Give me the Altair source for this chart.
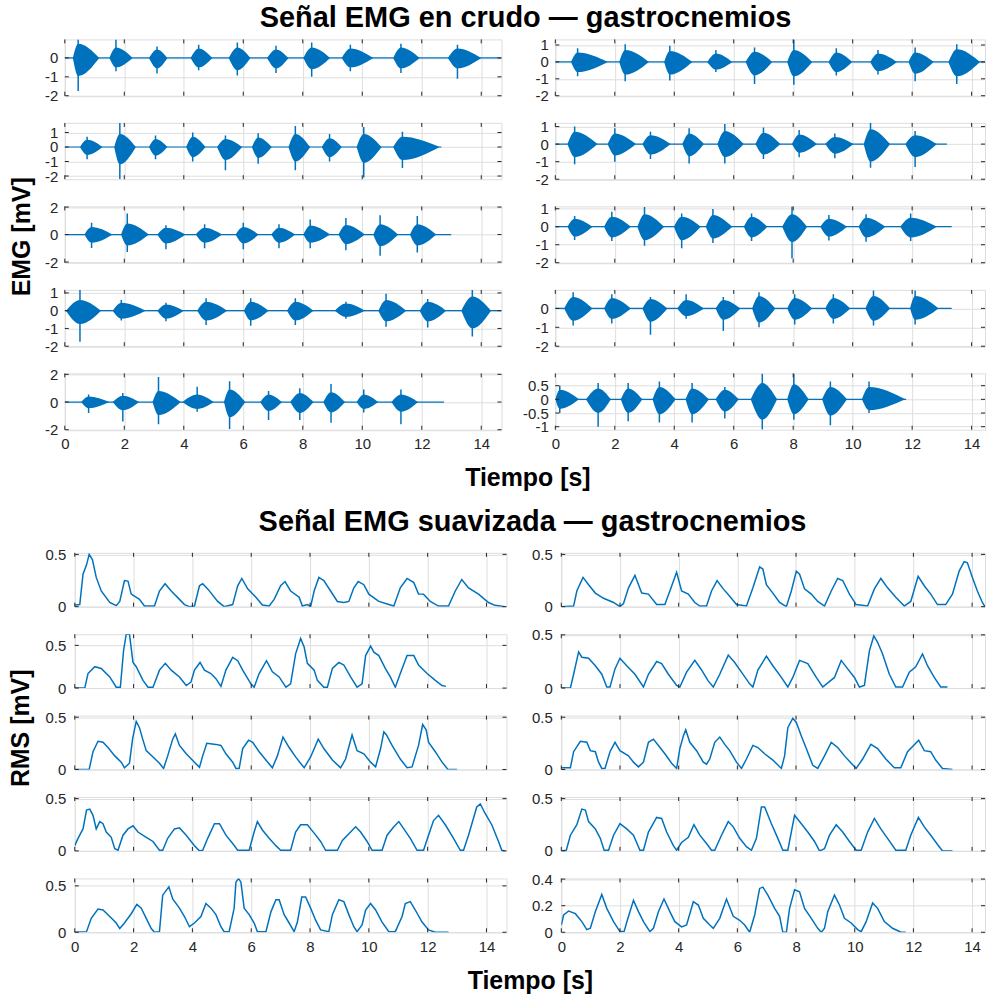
import altair as alt
import pandas as pd

FUENTE = "Liberation Sans"
AZUL = "#0072BD"
TEXTO = "#262626"
REJILLA = "#dedede"

marcas_tiempo = [0, 2, 4, 6, 8, 10, 12, 14]

titulo_crudo = "Señal EMG en crudo — gastrocnemios"
titulo_suave = "Señal EMG suavizada — gastrocnemios"
etiqueta_x = "Tiempo [s]"
etiqueta_crudo = "EMG [mV]"
etiqueta_suave = "RMS [mV]"

# ---------- señal en crudo: ráfagas (inicio, pico, fin, sup, inf, máx, mín) ----------
crudo_i1 = [(0.27, 0.45, 1.16, 0.75, -0.95, 0.98, -1.75), (1.50, 1.72, 2.28, 0.55, -0.50, 0.98, -0.70),
            (2.83, 3.10, 3.45, 0.45, -0.55, 0.60, -0.82), (4.23, 4.50, 4.96, 0.50, -0.50, 0.70, -0.65),
            (5.51, 5.80, 6.24, 0.55, -0.65, 0.82, -0.93), (6.80, 7.10, 7.52, 0.45, -0.55, 0.65, -0.80),
            (8.02, 8.30, 8.92, 0.55, -0.60, 0.82, -1.00), (9.31, 9.60, 10.37, 0.50, -0.50, 0.70, -0.70),
            (11.04, 11.30, 11.93, 0.55, -0.55, 0.75, -0.80), (12.88, 13.20, 14.00, 0.50, -0.55, 0.70, -1.10)]
crudo_i2 = [(0.51, 0.75, 1.27, 0.50, -0.55, 0.70, -0.85), (1.66, 1.85, 2.39, 0.90, -1.20, 1.66, -2.20),
            (2.83, 3.05, 3.45, 0.55, -0.60, 0.80, -0.85), (4.08, 4.30, 4.73, 0.70, -0.70, 1.00, -1.00),
            (5.12, 5.40, 5.96, 0.55, -0.90, 0.80, -1.60), (6.29, 6.50, 6.96, 0.65, -0.75, 0.95, -1.15),
            (7.52, 7.75, 8.25, 0.90, -1.00, 1.45, -1.60), (8.64, 8.90, 9.31, 0.60, -0.70, 0.90, -1.00),
            (9.81, 10.05, 10.65, 0.90, -1.10, 1.37, -2.10), (11.04, 11.35, 12.60, 0.70, -0.90, 1.05, -1.45)]
crudo_i3 = [(0.66, 0.90, 1.61, 0.55, -0.60, 0.85, -0.97), (1.89, 2.10, 2.83, 0.80, -0.80, 1.53, -1.27),
            (3.11, 3.40, 4.06, 0.50, -0.65, 0.68, -1.07), (4.40, 4.70, 5.29, 0.50, -0.60, 0.75, -1.00),
            (5.74, 6.00, 6.52, 0.55, -0.65, 0.85, -1.07), (6.94, 7.20, 7.75, 0.50, -0.60, 0.75, -1.00),
            (8.02, 8.25, 8.92, 0.65, -0.60, 1.10, -1.00), (9.20, 9.45, 10.09, 0.70, -0.70, 1.20, -1.14),
            (10.37, 10.60, 11.21, 0.75, -0.85, 1.40, -1.55), (11.60, 11.85, 12.49, 0.75, -0.80, 1.35, -1.31)]
crudo_i4 = [(0.04, 0.51, 1.22, 0.60, -0.75, 1.17, -1.75), (1.61, 1.90, 2.72, 0.45, -0.45, 0.60, -0.55),
            (3.11, 3.40, 4.00, 0.35, -0.45, 0.45, -0.60), (4.45, 4.75, 5.46, 0.50, -0.55, 0.70, -0.80),
            (6.02, 6.25, 6.85, 0.50, -0.55, 0.70, -0.85), (7.47, 7.75, 8.36, 0.50, -0.55, 0.70, -0.80),
            (9.08, 9.45, 10.09, 0.40, -0.35, 0.50, -0.45), (10.54, 10.80, 11.48, 0.60, -0.60, 0.95, -0.90),
            (11.93, 12.20, 12.82, 0.50, -0.60, 0.65, -0.95), (13.33, 13.70, 14.33, 0.80, -1.00, 1.17, -1.45)]
crudo_i5 = [(0.55, 0.80, 1.50, 0.40, -0.45, 0.55, -0.80), (1.61, 1.95, 2.50, 0.45, -0.60, 0.65, -1.40),
            (2.95, 3.15, 3.90, 0.80, -0.95, 1.80, -1.60), (3.95, 4.45, 5.01, 0.55, -0.50, 1.10, -0.70),
            (5.35, 5.54, 6.07, 0.90, -1.10, 1.50, -1.95), (6.57, 6.85, 7.30, 0.55, -0.65, 0.80, -1.30),
            (7.58, 7.90, 8.36, 0.65, -0.80, 1.00, -1.30), (8.69, 8.95, 9.42, 0.70, -0.75, 1.30, -1.50),
            (9.81, 10.05, 10.54, 0.55, -0.50, 0.90, -0.75), (10.98, 11.30, 11.88, 0.55, -0.70, 0.90, -1.60)]
crudo_d1 = [(0.53, 0.75, 1.76, 0.55, -0.60, 0.80, -0.85), (2.15, 2.35, 3.15, 0.70, -0.75, 1.05, -1.15),
            (3.66, 3.85, 4.61, 0.65, -0.75, 0.95, -1.10), (5.11, 5.40, 5.95, 0.50, -0.45, 0.70, -0.60),
            (6.40, 6.70, 7.29, 0.60, -0.80, 0.85, -1.30), (7.80, 8.02, 8.64, 0.70, -0.85, 1.33, -1.35),
            (9.19, 9.45, 9.98, 0.55, -0.60, 0.80, -0.80), (10.59, 10.85, 11.49, 0.50, -0.55, 0.70, -0.75),
            (11.88, 12.10, 12.72, 0.55, -0.70, 0.85, -1.15), (13.22, 13.50, 14.28, 0.75, -0.85, 1.05, -1.30)]
crudo_d2 = [(0.41, 0.65, 1.42, 0.70, -0.75, 1.00, -1.15), (1.76, 2.00, 2.71, 0.60, -0.65, 0.90, -1.00),
            (2.93, 3.20, 3.88, 0.50, -0.60, 0.70, -0.85), (4.27, 4.50, 5.00, 0.60, -0.70, 0.90, -1.10),
            (5.45, 5.70, 6.34, 0.75, -0.75, 1.15, -1.10), (6.73, 7.00, 7.57, 0.65, -0.60, 0.95, -0.85),
            (7.96, 8.20, 8.80, 0.55, -0.50, 0.80, -0.75), (9.08, 9.40, 10.03, 0.40, -0.55, 0.60, -0.80),
            (10.37, 10.60, 11.26, 0.85, -1.00, 1.21, -1.35), (11.77, 12.10, 12.83, 0.50, -0.75, 0.75, -1.30)]
crudo_d3 = [(0.41, 0.65, 1.25, 0.45, -0.55, 0.59, -0.74), (1.64, 1.90, 2.54, 0.55, -0.60, 0.83, -0.80),
            (2.76, 3.00, 3.66, 0.70, -0.75, 1.10, -1.06), (3.99, 4.25, 4.89, 0.55, -0.75, 0.74, -1.20),
            (5.06, 5.30, 5.95, 0.65, -0.65, 0.98, -0.90), (6.34, 6.60, 7.13, 0.55, -0.60, 0.74, -0.80),
            (7.63, 7.96, 8.47, 0.70, -0.85, 1.13, -1.76), (8.91, 9.20, 9.81, 0.45, -0.55, 0.65, -0.76),
            (10.20, 10.45, 11.10, 0.50, -0.60, 0.70, -0.83), (11.60, 11.95, 12.83, 0.50, -0.60, 0.74, -0.80)]
crudo_d4 = [(0.30, 0.60, 1.25, 0.60, -0.65, 0.85, -0.90), (1.64, 1.90, 2.54, 0.55, -0.55, 0.75, -0.80),
            (2.93, 3.20, 3.77, 0.50, -0.70, 0.60, -1.40), (4.10, 4.40, 5.00, 0.45, -0.40, 0.75, -0.55),
            (5.39, 5.65, 6.23, 0.45, -0.60, 0.60, -1.20), (6.62, 6.85, 7.40, 0.65, -0.75, 0.85, -1.00),
            (7.80, 8.05, 8.64, 0.55, -0.60, 0.75, -0.85), (9.08, 9.35, 9.92, 0.55, -0.55, 0.75, -0.80),
            (10.43, 10.70, 11.26, 0.65, -0.65, 0.95, -0.90), (11.93, 12.10, 12.89, 0.65, -0.60, 0.95, -0.85)]
crudo_d5 = [(0.00, 0.15, 0.80, 0.35, -0.35, 0.50, -0.50), (1.03, 1.44, 1.87, 0.40, -0.50, 0.60, -1.00),
            (2.20, 2.45, 2.93, 0.40, -0.50, 0.60, -0.80), (3.27, 3.50, 4.05, 0.45, -0.55, 0.65, -0.85),
            (4.38, 4.60, 5.17, 0.40, -0.55, 0.60, -0.85), (5.39, 5.70, 6.17, 0.35, -0.45, 0.45, -0.70),
            (6.57, 6.96, 7.46, 0.60, -0.75, 0.95, -1.10), (7.80, 8.02, 8.52, 0.55, -0.55, 0.95, -0.75),
            (8.97, 9.25, 9.81, 0.45, -0.60, 0.65, -0.95), (10.31, 10.55, 11.77, 0.45, -0.40, 0.65, -0.50)]

crudo_fin_i = [14.68, 12.66, 12.99, 14.68, 12.75]
crudo_fin_d = [14.45, 13.17, 13.33, 13.33, 11.80]
crudo_lim_i = [(-2.0, 0.98), (-2.22, 1.66), (-2.05, 2.05), (-2.0, 1.17), (-2.0, 2.07)]
crudo_lim_d = [(-2.0, 1.33), (-2.0, 1.21), (-2.0, 1.13), (-2.0, 0.98), (-1.11, 0.95)]
crudo_yt_i = [[-2, -1, 0], [-2, -1, 0, 1], [-2, 0, 2], [-2, -1, 0, 1], [-2, 0, 2]]
crudo_yt_d = [[-2, -1, 0, 1], [-2, -1, 0, 1], [-2, -1, 0, 1], [-2, -1, 0], [-1, -0.5, 0, 0.5]]

# ---------- señal suavizada (RMS): (tiempo, valor) ----------
rms_i1 = [(0, 0.016), (0.17, 0.02), (0.28, 0.31), (0.40, 0.40), (0.49, 0.50), (0.60, 0.45), (0.73, 0.28),
          (0.90, 0.15), (1.19, 0.04), (1.41, 0.01), (1.53, 0.05), (1.69, 0.25), (1.81, 0.245), (1.92, 0.12),
          (2.20, 0.07), (2.37, 0.006), (2.71, 0.006), (2.88, 0.15), (3.07, 0.22), (3.28, 0.15), (3.56, 0.07),
          (3.73, 0.02), (3.90, 0.0), (4.07, 0.006), (4.24, 0.20), (4.35, 0.22), (4.52, 0.17), (4.86, 0.05),
          (5.08, 0.0), (5.37, 0.02), (5.54, 0.20), (5.68, 0.27), (5.88, 0.17), (6.16, 0.09), (6.38, 0.016),
          (6.61, 0.006), (6.78, 0.07), (7.00, 0.20), (7.15, 0.24), (7.34, 0.15), (7.63, 0.09), (7.74, 0.006),
          (7.91, 0.02), (8.02, 0.0), (8.14, 0.15), (8.30, 0.28), (8.47, 0.25), (8.70, 0.15), (8.93, 0.05),
          (9.15, 0.04), (9.32, 0.05), (9.49, 0.18), (9.64, 0.24), (9.83, 0.21), (10.00, 0.12), (10.34, 0.05),
          (10.68, 0.02), (10.85, 0.006), (11.07, 0.18), (11.30, 0.27), (11.53, 0.23), (11.69, 0.12),
          (11.86, 0.12), (12.09, 0.05), (12.37, 0.006), (12.71, 0.006), (12.94, 0.15), (13.16, 0.26),
          (13.39, 0.18), (13.73, 0.12), (14.07, 0.04), (14.29, 0.013), (14.63, 0.0)]
rms_i2 = [(0, 0.0), (0.34, 0.0), (0.45, 0.17), (0.68, 0.25), (0.90, 0.23), (1.19, 0.13), (1.41, 0.01),
          (1.55, 0.01), (1.66, 0.44), (1.75, 0.63), (1.86, 0.63), (1.98, 0.30), (2.09, 0.25), (2.32, 0.09),
          (2.49, 0.01), (2.66, 0.01), (2.88, 0.21), (3.08, 0.29), (3.28, 0.21), (3.56, 0.13), (3.79, 0.03),
          (3.95, 0.07), (4.07, 0.21), (4.26, 0.30), (4.41, 0.21), (4.63, 0.17), (4.80, 0.11), (4.97, 0.02),
          (5.14, 0.21), (5.37, 0.36), (5.54, 0.32), (5.71, 0.21), (5.99, 0.05), (6.10, 0.01), (6.27, 0.17),
          (6.52, 0.32), (6.72, 0.19), (6.95, 0.13), (7.18, 0.01), (7.34, 0.05), (7.51, 0.40), (7.68, 0.58),
          (7.80, 0.48), (7.91, 0.29), (8.14, 0.21), (8.25, 0.09), (8.47, 0.01), (8.59, 0.01), (8.76, 0.23),
          (8.98, 0.30), (9.15, 0.27), (9.38, 0.13), (9.60, 0.01), (9.77, 0.05), (9.89, 0.38), (10.06, 0.49),
          (10.17, 0.42), (10.34, 0.38), (10.56, 0.23), (10.73, 0.13), (10.90, 0.01), (11.07, 0.17),
          (11.30, 0.38), (11.53, 0.38), (11.69, 0.27), (11.98, 0.17), (12.26, 0.09), (12.49, 0.03),
          (12.62, 0.02)]
rms_i3 = [(0, 0.0), (0.49, 0.0), (0.62, 0.17), (0.79, 0.27), (0.96, 0.26), (1.13, 0.21), (1.36, 0.13),
          (1.58, 0.07), (1.69, 0.016), (1.86, 0.06), (1.97, 0.30), (2.09, 0.46), (2.20, 0.40), (2.30, 0.30),
          (2.43, 0.18), (2.66, 0.12), (2.88, 0.06), (3.02, 0.01), (3.16, 0.13), (3.33, 0.29), (3.42, 0.34),
          (3.56, 0.23), (3.79, 0.15), (4.07, 0.07), (4.24, 0.02), (4.35, 0.13), (4.49, 0.25), (4.80, 0.24),
          (4.97, 0.23), (5.14, 0.15), (5.37, 0.07), (5.48, 0.01), (5.59, 0.01), (5.71, 0.20), (5.91, 0.28),
          (6.05, 0.26), (6.27, 0.17), (6.50, 0.09), (6.72, 0.016), (6.89, 0.13), (7.08, 0.31), (7.29, 0.21),
          (7.51, 0.12), (7.80, 0.016), (8.02, 0.12), (8.28, 0.29), (8.47, 0.20), (8.76, 0.09), (9.04, 0.016),
          (9.21, 0.10), (9.43, 0.33), (9.60, 0.18), (9.83, 0.15), (10.06, 0.07), (10.23, 0.025), (10.40, 0.20),
          (10.51, 0.36), (10.60, 0.33), (10.79, 0.23), (11.07, 0.10), (11.30, 0.016), (11.47, 0.025),
          (11.69, 0.23), (11.83, 0.43), (11.95, 0.38), (12.03, 0.26), (12.26, 0.17), (12.49, 0.07),
          (12.69, 0.0), (13.0, 0.0)]
rms_i4 = [(0, 0.05), (0.11, 0.12), (0.28, 0.21), (0.40, 0.39), (0.51, 0.40), (0.62, 0.34), (0.73, 0.21),
          (0.85, 0.28), (0.96, 0.26), (1.07, 0.18), (1.24, 0.13), (1.36, 0.02), (1.47, 0.006), (1.64, 0.15),
          (1.81, 0.21), (1.98, 0.24), (2.15, 0.18), (2.43, 0.13), (2.66, 0.09), (2.88, 0.006), (2.99, 0.006),
          (3.16, 0.12), (3.39, 0.21), (3.56, 0.22), (3.79, 0.15), (4.07, 0.05), (4.24, 0.0), (4.35, 0.006),
          (4.52, 0.12), (4.75, 0.26), (4.92, 0.26), (5.14, 0.15), (5.37, 0.07), (5.54, 0.006), (5.93, 0.006),
          (6.10, 0.18), (6.21, 0.28), (6.38, 0.20), (6.61, 0.12), (6.84, 0.05), (7.00, 0.006), (7.34, 0.006),
          (7.51, 0.18), (7.68, 0.25), (7.91, 0.25), (8.14, 0.17), (8.36, 0.09), (8.53, 0.006), (8.93, 0.006),
          (9.10, 0.10), (9.38, 0.18), (9.55, 0.23), (9.72, 0.18), (9.94, 0.09), (10.11, 0.006), (10.45, 0.006),
          (10.62, 0.15), (10.85, 0.23), (11.02, 0.28), (11.19, 0.21), (11.41, 0.12), (11.64, 0.006),
          (11.86, 0.006), (12.03, 0.15), (12.20, 0.29), (12.37, 0.34), (12.60, 0.25), (12.88, 0.12),
          (13.11, 0.006), (13.22, 0.006), (13.39, 0.15), (13.67, 0.42), (13.79, 0.45), (13.95, 0.36),
          (14.18, 0.25), (14.41, 0.09), (14.52, 0.006), (14.63, 0.0)]
rms_i5 = [(0, 0.0), (0.40, 0.007), (0.56, 0.15), (0.79, 0.25), (0.96, 0.24), (1.19, 0.17), (1.41, 0.10),
          (1.53, 0.04), (1.69, 0.10), (1.92, 0.20), (2.11, 0.30), (2.26, 0.26), (2.43, 0.15), (2.60, 0.04),
          (2.71, 0.0), (2.88, 0.007), (2.99, 0.40), (3.20, 0.49), (3.33, 0.36), (3.56, 0.26), (3.73, 0.17),
          (3.90, 0.06), (4.07, 0.10), (4.29, 0.17), (4.46, 0.31), (4.63, 0.26), (4.80, 0.19), (4.97, 0.06),
          (5.08, 0.007), (5.25, 0.007), (5.42, 0.26), (5.48, 0.54), (5.57, 0.58), (5.65, 0.54), (5.76, 0.26),
          (5.93, 0.19), (6.10, 0.10), (6.21, 0.007), (6.50, 0.007), (6.67, 0.22), (6.84, 0.35), (6.95, 0.35),
          (7.12, 0.19), (7.29, 0.10), (7.46, 0.007), (7.57, 0.11), (7.72, 0.38), (7.85, 0.38), (8.02, 0.26),
          (8.19, 0.13), (8.36, 0.025), (8.64, 0.007), (8.76, 0.19), (8.98, 0.35), (9.15, 0.33), (9.32, 0.19),
          (9.49, 0.06), (9.60, 0.007), (9.77, 0.08), (9.89, 0.24), (10.06, 0.31), (10.23, 0.24), (10.45, 0.11),
          (10.68, 0.007), (10.90, 0.007), (11.13, 0.17), (11.24, 0.31), (11.41, 0.33), (11.58, 0.24),
          (11.81, 0.11), (12.03, 0.025), (12.26, 0.0), (12.71, 0.0)]
rms_d1 = [(0, 0.0), (0.42, 0.006), (0.53, 0.15), (0.74, 0.28), (0.93, 0.21), (1.16, 0.13), (1.44, 0.08),
          (1.78, 0.04), (2.00, 0.0), (2.12, 0.03), (2.29, 0.18), (2.51, 0.30), (2.74, 0.13), (2.97, 0.12),
          (3.25, 0.02), (3.53, 0.02), (3.70, 0.15), (3.93, 0.33), (4.10, 0.15), (4.33, 0.12), (4.55, 0.04),
          (4.72, 0.006), (4.95, 0.006), (5.12, 0.15), (5.31, 0.25), (5.52, 0.17), (5.74, 0.10), (5.97, 0.02),
          (6.31, 0.006), (6.53, 0.18), (6.76, 0.38), (6.87, 0.36), (6.99, 0.21), (7.21, 0.13), (7.44, 0.04),
          (7.67, 0.0), (7.84, 0.15), (8.01, 0.34), (8.12, 0.31), (8.29, 0.17), (8.52, 0.12), (8.74, 0.05),
          (8.97, 0.006), (9.20, 0.15), (9.42, 0.27), (9.59, 0.25), (9.82, 0.12), (10.05, 0.02), (10.44, 0.006),
          (10.67, 0.17), (10.89, 0.27), (11.12, 0.18), (11.40, 0.09), (11.69, 0.006), (11.91, 0.05),
          (12.16, 0.29), (12.37, 0.20), (12.59, 0.12), (12.82, 0.02), (13.10, 0.02), (13.33, 0.12),
          (13.56, 0.34), (13.73, 0.43), (13.84, 0.42), (14.01, 0.28), (14.18, 0.15), (14.35, 0.04),
          (14.44, 0.0)]
rms_d2 = [(0, 0.0), (0.31, 0.0), (0.42, 0.13), (0.59, 0.34), (0.70, 0.29), (0.93, 0.28), (1.16, 0.21),
          (1.38, 0.13), (1.55, 0.01), (1.66, 0.01), (1.83, 0.18), (2.00, 0.28), (2.23, 0.21), (2.51, 0.13),
          (2.80, 0.01), (2.97, 0.13), (3.25, 0.25), (3.42, 0.23), (3.65, 0.13), (3.93, 0.025), (4.04, 0.01),
          (4.27, 0.15), (4.55, 0.26), (4.78, 0.17), (5.00, 0.07), (5.18, 0.01), (5.40, 0.13), (5.69, 0.31),
          (5.91, 0.24), (6.14, 0.15), (6.42, 0.04), (6.53, 0.01), (6.70, 0.17), (6.99, 0.30), (7.21, 0.21),
          (7.50, 0.10), (7.72, 0.01), (7.89, 0.10), (8.12, 0.26), (8.40, 0.23), (8.69, 0.10), (8.91, 0.01),
          (9.31, 0.10), (9.54, 0.26), (9.76, 0.18), (9.99, 0.10), (10.16, 0.01), (10.33, 0.025), (10.50, 0.35),
          (10.65, 0.49), (10.78, 0.43), (10.95, 0.32), (11.18, 0.13), (11.40, 0.01), (11.63, 0.01),
          (11.86, 0.15), (12.08, 0.20), (12.31, 0.32), (12.48, 0.21), (12.71, 0.10), (12.93, 0.01),
          (13.16, 0.01)]
rms_d3 = [(0, 0.016), (0.31, 0.016), (0.42, 0.17), (0.65, 0.27), (0.87, 0.26), (0.99, 0.18), (1.16, 0.17),
          (1.27, 0.07), (1.38, 0.01), (1.49, 0.01), (1.66, 0.17), (1.83, 0.26), (2.00, 0.18), (2.29, 0.13),
          (2.46, 0.07), (2.63, 0.025), (2.80, 0.07), (2.97, 0.26), (3.14, 0.29), (3.31, 0.23), (3.53, 0.15),
          (3.76, 0.06), (3.93, 0.01), (4.04, 0.20), (4.16, 0.32), (4.24, 0.38), (4.38, 0.26), (4.61, 0.18),
          (4.84, 0.07), (4.95, 0.05), (5.06, 0.10), (5.23, 0.26), (5.40, 0.31), (5.57, 0.24), (5.74, 0.18),
          (5.97, 0.07), (6.14, 0.01), (6.31, 0.10), (6.53, 0.23), (6.70, 0.21), (6.93, 0.15), (7.21, 0.09),
          (7.50, 0.01), (7.61, 0.13), (7.72, 0.40), (7.89, 0.49), (8.01, 0.45), (8.18, 0.32), (8.35, 0.20),
          (8.57, 0.04), (8.74, 0.01), (8.97, 0.13), (9.20, 0.26), (9.42, 0.21), (9.65, 0.13), (9.88, 0.06),
          (10.05, 0.01), (10.27, 0.10), (10.55, 0.24), (10.78, 0.20), (11.06, 0.10), (11.35, 0.016),
          (11.57, 0.016), (11.80, 0.17), (12.18, 0.28), (12.37, 0.18), (12.59, 0.17), (12.76, 0.09),
          (12.99, 0.01), (13.33, 0.0)]
rms_d4 = [(0, 0.0), (0.17, 0.006), (0.31, 0.15), (0.53, 0.25), (0.70, 0.40), (0.82, 0.39), (0.93, 0.28),
          (1.16, 0.21), (1.33, 0.12), (1.46, 0.006), (1.61, 0.006), (1.78, 0.15), (2.00, 0.26), (2.23, 0.21),
          (2.46, 0.15), (2.68, 0.006), (2.80, 0.006), (2.97, 0.18), (3.25, 0.32), (3.42, 0.31), (3.59, 0.18),
          (3.82, 0.05), (3.93, 0.006), (4.10, 0.08), (4.33, 0.13), (4.52, 0.25), (4.72, 0.15), (4.95, 0.07),
          (5.12, 0.006), (5.23, 0.006), (5.46, 0.15), (5.69, 0.28), (5.86, 0.23), (6.08, 0.12), (6.31, 0.04),
          (6.48, 0.006), (6.65, 0.12), (6.82, 0.42), (6.93, 0.42), (7.16, 0.26), (7.38, 0.12), (7.55, 0.006),
          (7.72, 0.006), (7.95, 0.34), (8.18, 0.26), (8.40, 0.18), (8.63, 0.09), (8.80, 0.0), (8.97, 0.02),
          (9.14, 0.15), (9.37, 0.25), (9.59, 0.18), (9.82, 0.09), (10.05, 0.006), (10.22, 0.006),
          (10.44, 0.18), (10.67, 0.31), (10.89, 0.21), (11.12, 0.12), (11.40, 0.006), (11.74, 0.006),
          (11.91, 0.15), (12.17, 0.32), (12.37, 0.23), (12.59, 0.15), (12.88, 0.04), (12.99, 0.0),
          (13.33, 0.0)]
rms_d5 = [(0, 0.055), (0.08, 0.13), (0.25, 0.16), (0.48, 0.14), (0.70, 0.08), (0.87, 0.02), (0.99, 0.03),
          (1.16, 0.155), (1.38, 0.285), (1.55, 0.18), (1.78, 0.08), (2.00, 0.005), (2.14, 0.005), (2.25, 0.09),
          (2.46, 0.24), (2.63, 0.155), (2.80, 0.08), (3.02, 0.005), (3.14, 0.03), (3.31, 0.155), (3.50, 0.25),
          (3.70, 0.155), (3.87, 0.08), (4.10, 0.04), (4.27, 0.055), (4.50, 0.23), (4.67, 0.205), (4.84, 0.105),
          (5.06, 0.055), (5.18, 0.03), (5.40, 0.105), (5.63, 0.25), (5.86, 0.12), (6.08, 0.09), (6.25, 0.055),
          (6.42, 0.0), (6.59, 0.13), (6.76, 0.33), (6.87, 0.34), (7.04, 0.28), (7.27, 0.18), (7.44, 0.12),
          (7.55, 0.0), (7.67, 0.0), (7.78, 0.18), (7.95, 0.32), (8.12, 0.305), (8.29, 0.18), (8.52, 0.105),
          (8.74, 0.03), (8.86, 0.0), (8.97, 0.03), (9.08, 0.155), (9.31, 0.28), (9.48, 0.205), (9.65, 0.105),
          (9.88, 0.07), (10.10, 0.02), (10.22, 0.005), (10.39, 0.08), (10.61, 0.22), (10.78, 0.18),
          (11.01, 0.08), (11.29, 0.03), (11.58, 0.0), (11.74, 0.0)]

rms_lim_i = [(0, 0.515), (0, 0.63), (0, 0.515), (0, 0.515), (0, 0.58)]
rms_lim_d = [(0, 0.515), (0, 0.506), (0, 0.515), (0, 0.515), (0, 0.405)]
rms_yt_i = [[0, 0.5]] * 5
rms_yt_d = [[0, 0.5], [0, 0.5], [0, 0.5], [0, 0.5], [0, 0.2, 0.4]]


def ejes(xmax, ylim, yticks, abajo, cfg, ytitulo, xtitulo):
    xa = dict(values=[v for v in marcas_tiempo if v <= xmax], grid=True, gridColor=REJILLA, gridWidth=1,
              ticks=False, domain=False, labels=abajo, labelFontSize=15, labelColor=TEXTO, labelFont=FUENTE,
              labelPadding=7, labelFlush=False, labelOverlap=False, title=None)
    if xtitulo:
        xa.update(title=xtitulo, titleFontSize=25, titleFontWeight="bold", titleColor="#000000",
                  titleFont=FUENTE, titleX=cfg["xtit_x"], titlePadding=cfg["xtit_pad"])
    ya = dict(values=yticks, grid=True, gridColor=REJILLA, gridWidth=1, ticks=False, domain=False,
              labelFontSize=15, labelColor=TEXTO, labelFont=FUENTE, labelPadding=cfg["ylab_pad"],
              labelFlush=False, labelOverlap=False, labelExpr="toString(datum.value)", title=None)
    if ytitulo:
        ya.update(title=ytitulo, titleFontSize=25, titleFontWeight="bold", titleColor="#000000",
                  titleFont=FUENTE, titleAngle=270, titleBaseline="middle", titleAlign="center",
                  titleX=cfg["ytit_x"], titleY=cfg["ytit_y"])
    xs = alt.Scale(domain=[0, xmax], nice=False, zero=False)
    ys = alt.Scale(domain=list(ylim), nice=False, zero=False)

    def X(campo):
        return alt.X(f"{campo}:Q", scale=xs, axis=alt.Axis(**xa))

    def Y(campo):
        return alt.Y(f"{campo}:Q", scale=ys, axis=alt.Axis(**ya))

    return X, Y


def marcas_ejes(X, Y, xmax, ylim, yticks, ancho, alto):
    dfx = pd.DataFrame({"t": [v for v in marcas_tiempo if v <= xmax]})
    dfy = pd.DataFrame({"v": [v for v in yticks if ylim[0] <= v <= ylim[1]]})
    return [
        alt.Chart(dfx).mark_rule(color=TEXTO, strokeWidth=1).encode(x=X("t"), y=alt.value(0), y2=alt.value(4)),
        alt.Chart(dfx).mark_rule(color=TEXTO, strokeWidth=1).encode(x=X("t"), y=alt.value(alto - 4), y2=alt.value(alto)),
        alt.Chart(dfy).mark_rule(color=TEXTO, strokeWidth=1).encode(y=Y("v"), x=alt.value(0), x2=alt.value(4)),
        alt.Chart(dfy).mark_rule(color=TEXTO, strokeWidth=1).encode(y=Y("v"), x=alt.value(ancho - 4), x2=alt.value(ancho)),
    ]


def panel_crudo(rafagas, fin, ylim, yticks, xmax, ancho, alto, abajo, cfg, ytitulo=None, xtitulo=None):
    X, Y = ejes(xmax, ylim, yticks, abajo, cfg, ytitulo, xtitulo)
    filas = []
    for i, (a, p, b, s, inf, mx, mn) in enumerate(rafagas):
        filas += [{"r": i, "t": a, "hi": 0.0, "lo": 0.0},
                  {"r": i, "t": p, "hi": s, "lo": inf},
                  {"r": i, "t": b, "hi": 0.0, "lo": 0.0}]
    area = pd.DataFrame(filas)
    picos = pd.DataFrame([{"t": p, "hi": mx, "lo": mn} for (a, p, b, s, inf, mx, mn) in rafagas])
    base = pd.DataFrame({"t": [0.0], "t1": [fin], "v": [0.0]})
    capas = [
        alt.Chart(base).mark_rule(color=AZUL, strokeWidth=1.2, clip=True).encode(x=X("t"), x2="t1", y=Y("v")),
        alt.Chart(area).mark_area(color=AZUL, opacity=1, clip=True, interpolate="monotone").encode(
            x=X("t"), y=Y("hi"), y2="lo", detail="r:N"),
        alt.Chart(picos).mark_rule(color=AZUL, strokeWidth=1.5, clip=True).encode(x=X("t"), y=Y("hi"), y2="lo"),
    ]
    capas += marcas_ejes(X, Y, xmax, ylim, yticks, ancho, alto)
    return alt.layer(*capas).properties(width=ancho, height=alto)


def panel_rms(puntos, ylim, yticks, xmax, ancho, alto, abajo, cfg, ytitulo=None, xtitulo=None):
    X, Y = ejes(xmax, ylim, yticks, abajo, cfg, ytitulo, xtitulo)
    df = pd.DataFrame(puntos, columns=["t", "v"])
    capas = [alt.Chart(df).mark_line(color=AZUL, strokeWidth=1.5, clip=True).encode(x=X("t"), y=Y("v"))]
    capas += marcas_ejes(X, Y, xmax, ylim, yticks, ancho, alto)
    return alt.layer(*capas).properties(width=ancho, height=alto)


def hueco(ancho, alto):
    # celda vacía que sólo reserva margen a la izquierda de cada sección
    return alt.Chart(pd.DataFrame({"a": [0]})).mark_point(opacity=0).encode(
        x=alt.value(0), y=alt.value(0)
    ).properties(width=ancho, height=alto, view=alt.ViewBackground(strokeOpacity=0))


crudo_i = [crudo_i1, crudo_i2, crudo_i3, crudo_i4, crudo_i5]
crudo_d = [crudo_d1, crudo_d2, crudo_d3, crudo_d4, crudo_d5]
rms_i = [rms_i1, rms_i2, rms_i3, rms_i4, rms_i5]
rms_d = [rms_d1, rms_d2, rms_d3, rms_d4, rms_d5]

# sección 1: señal en crudo
W1i, W1d, H1 = 438, 431, 56.5
X1i, X1d = 14.68, 14.45
cfg1 = {"xtit_x": 464, "xtit_pad": 14, "ylab_pad": 7, "ytit_x": -43.5, "ytit_y": 30}
paneles1 = []
for k in range(5):
    abajo = k == 4
    paneles1.append(hueco(5, H1))
    paneles1.append(panel_crudo(crudo_i[k], crudo_fin_i[k], crudo_lim_i[k], crudo_yt_i[k], X1i, W1i, H1, abajo,
                                cfg1, ytitulo=etiqueta_crudo if k == 2 else None,
                                xtitulo=etiqueta_x if k == 4 else None))
    paneles1.append(panel_crudo(crudo_d[k], crudo_fin_d[k], crudo_lim_d[k], crudo_yt_d[k], X1d, W1d, H1, abajo,
                                cfg1))

sec1 = alt.concat(*paneles1, columns=3, spacing={"row": 26.75, "column": 54}, bounds="flush",
                  title=alt.TitleParams(titulo_crudo, fontSize=29, fontWeight="bold", font=FUENTE,
                                        color="#000000", anchor="middle", offset=4, dx=31))

# sección 2: señal suavizada
W2i, W2d, H2 = 433, 425, 54
X2i, X2d = 14.68, 14.44
cfg2 = {"xtit_x": 456.5, "xtit_pad": 14, "ylab_pad": 9, "ytit_x": -54, "ytit_y": 12.2}
paneles2 = []
for k in range(5):
    abajo = k == 4
    paneles2.append(hueco(13.7, H2))
    paneles2.append(panel_rms(rms_i[k], rms_lim_i[k], rms_yt_i[k], X2i, W2i, H2, abajo, cfg2,
                              ytitulo=etiqueta_suave if k == 2 else None,
                              xtitulo=etiqueta_x if k == 4 else None))
    paneles2.append(panel_rms(rms_d[k], rms_lim_d[k], rms_yt_d[k], X2d, W2d, H2, abajo, cfg2))

sec2 = alt.concat(*paneles2, columns=3, spacing={"row": 27.65, "column": 55}, bounds="flush",
                  title=alt.TitleParams(titulo_suave, fontSize=29, fontWeight="bold", font=FUENTE,
                                        color="#000000", anchor="middle", offset=10, dx=38))

chart = alt.vconcat(sec1, sec2, spacing=17).properties(
    padding={"left": 3, "top": 2, "right": 0, "bottom": 0}
).configure_view(stroke=TEXTO, strokeWidth=1).configure(font=FUENTE, background="white")

chart.save("out.html", embed_options={"renderer": "svg", "actions": False})
